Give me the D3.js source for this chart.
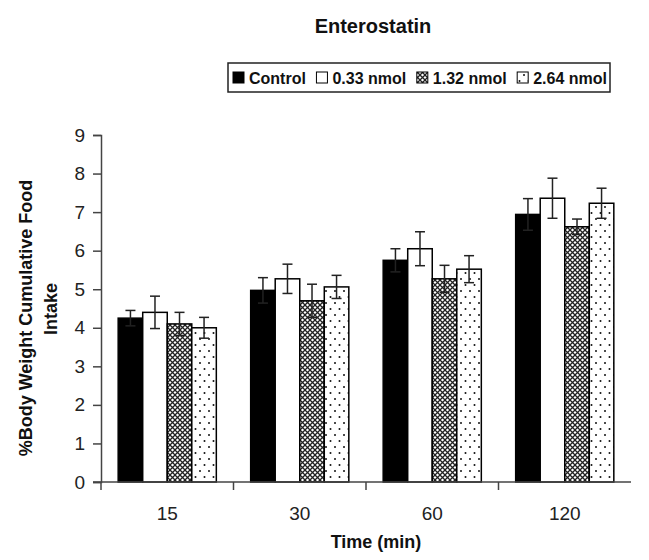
<!DOCTYPE html>
<html>
<head>
<meta charset="utf-8">
<script src="https://cdn.jsdelivr.net/npm/d3@7"></script>
<style>
  body { margin: 0; background: #fff; }
  svg { font-family: "Liberation Sans", Arial, sans-serif; }
</style>
</head>
<body>
<div id="chart"></div>
<script>
// data
const times = ["15", "30", "60", "120"];
const doses = ["Control", "0.33 nmol", "1.32 nmol", "2.64 nmol"];
const control = [4.25, 4.97, 5.75, 6.94];
const nmol033 = [4.4, 5.27, 6.05, 7.36];
const nmol132 = [4.1, 4.7, 5.27, 6.62];
const nmol264 = [4.0, 5.06, 5.52, 7.23];
const errControl = [0.2, 0.33, 0.3, 0.41];
const err033 = [0.42, 0.38, 0.44, 0.52];
const err132 = [0.3, 0.43, 0.35, 0.2];
const err264 = [0.27, 0.3, 0.35, 0.39];
const yTicks = [0, 1, 2, 3, 4, 5, 6, 7, 8, 9];

const series = [control, nmol033, nmol132, nmol264];
const errors = [errControl, err033, err132, err264];

const width = 649, height = 560;
const margin = { top: 135, right: 18, bottom: 78, left: 101 };

const svg = d3.select("#chart").append("svg")
  .attr("width", width)
  .attr("height", height);

// fill patterns
const defs = svg.append("defs");
const cross = defs.append("pattern")
  .attr("id", "cross")
  .attr("patternUnits", "userSpaceOnUse")
  .attr("width", 5).attr("height", 5);
cross.append("rect").attr("width", 5).attr("height", 5).attr("fill", "#fff");
cross.append("path")
  .attr("d", "M0,0L5,5M5,0L0,5")
  .attr("stroke", "#222").attr("stroke-width", 1.3);

const dots = defs.append("pattern")
  .attr("id", "dots")
  .attr("patternUnits", "userSpaceOnUse")
  .attr("width", 9).attr("height", 12);
dots.append("rect").attr("width", 9).attr("height", 12).attr("fill", "#fff");
dots.append("circle").attr("cx", 2).attr("cy", 3).attr("r", 1).attr("fill", "#111");
dots.append("circle").attr("cx", 6.5).attr("cy", 9).attr("r", 1).attr("fill", "#111");

const fills = ["#000", "#fff", "url(#cross)", "url(#dots)"];

const x = d3.scaleBand()
  .domain(times)
  .range([margin.left, width - margin.right])
  .paddingInner(0)
  .paddingOuter(0);

const xInner = d3.scaleBand()
  .domain(doses)
  .range([0, x.bandwidth()])
  .paddingOuter(0.7)
  .paddingInner(0);

const y = d3.scaleLinear()
  .domain([0, 9])
  .range([height - margin.bottom, margin.top]);

// bars
series.forEach((vals, si) => {
  svg.append("g")
    .selectAll("rect")
    .data(vals)
    .join("rect")
    .attr("x", (d, i) => x(times[i]) + xInner(doses[si]))
    .attr("y", d => y(d))
    .attr("width", xInner.bandwidth())
    .attr("height", d => y(0) - y(d))
    .attr("fill", fills[si])
    .attr("stroke", "#000")
    .attr("stroke-width", 1.5);
});

// error bars
series.forEach((vals, si) => {
  const g = svg.append("g").attr("stroke", "#222").attr("stroke-width", 1.5);
  vals.forEach((v, i) => {
    const cx = x(times[i]) + xInner(doses[si]) + xInner.bandwidth() / 2;
    const e = errors[si][i];
    g.append("line").attr("x1", cx).attr("x2", cx).attr("y1", y(v - e)).attr("y2", y(v + e));
    g.append("line").attr("x1", cx - 5).attr("x2", cx + 5).attr("y1", y(v + e)).attr("y2", y(v + e));
    g.append("line").attr("x1", cx - 5).attr("x2", cx + 5).attr("y1", y(v - e)).attr("y2", y(v - e));
  });
});

// y axis
const yAxis = svg.append("g")
  .attr("transform", `translate(${margin.left},0)`)
  .call(d3.axisLeft(y).tickValues(yTicks).tickSize(8).tickPadding(8).tickFormat(d3.format("d")));
yAxis.select(".domain").attr("stroke", "#444").attr("stroke-width", 1.5);
yAxis.selectAll(".tick line").attr("stroke", "#444").attr("stroke-width", 1.5);
yAxis.selectAll("text").attr("font-size", 19).attr("fill", "#222");

// x axis: line plus ticks at category boundaries
const xAxis = svg.append("g");
xAxis.append("line")
  .attr("x1", margin.left - 8).attr("x2", width - margin.right)
  .attr("y1", y(0)).attr("y2", y(0))
  .attr("stroke", "#444").attr("stroke-width", 1.5);
times.forEach(t => {
  xAxis.append("line")
    .attr("x1", x(t)).attr("x2", x(t))
    .attr("y1", y(0)).attr("y2", y(0) + 8)
    .attr("stroke", "#444").attr("stroke-width", 1.5);
  xAxis.append("text")
    .attr("x", x(t) + x.bandwidth() / 2)
    .attr("y", 520)
    .attr("text-anchor", "middle")
    .attr("font-size", 19)
    .attr("fill", "#222")
    .text(t);
});

// titles
svg.append("text")
  .attr("x", 373).attr("y", 33)
  .attr("text-anchor", "middle")
  .attr("font-size", 20).attr("font-weight", "bold")
  .attr("fill", "#111")
  .text("Enterostatin");

svg.append("text")
  .attr("x", 376).attr("y", 548)
  .attr("text-anchor", "middle")
  .attr("font-size", 18).attr("font-weight", "bold")
  .attr("fill", "#111")
  .text("Time (min)");

svg.append("text")
  .attr("transform", "translate(32,318) rotate(-90)")
  .attr("text-anchor", "middle")
  .attr("font-size", 18).attr("font-weight", "bold")
  .attr("fill", "#111")
  .text("%Body Weight Cumulative Food");
svg.append("text")
  .attr("transform", "translate(57,309) rotate(-90)")
  .attr("text-anchor", "middle")
  .attr("font-size", 18).attr("font-weight", "bold")
  .attr("fill", "#111")
  .text("Intake");

// legend
const legend = svg.append("g");
legend.append("rect")
  .attr("x", 228).attr("y", 63)
  .attr("width", 382).attr("height", 29)
  .attr("fill", "#fff").attr("stroke", "#222").attr("stroke-width", 1.5);

const items = legend.selectAll("g.item")
  .data(doses)
  .join("g")
  .attr("class", "item");
items.append("rect")
  .attr("y", 72)
  .attr("width", 11).attr("height", 11)
  .attr("fill", (d, i) => fills[i]).attr("stroke", "#000").attr("stroke-width", 1);
items.append("text")
  .attr("y", 84)
  .attr("font-size", 16).attr("font-weight", "bold")
  .attr("fill", "#111")
  .text(d => d);

const textW = items.select("text").nodes().map(n => n.getComputedTextLength());
const totalW = d3.sum(textW) + doses.length * 16;
const gap = (374 - totalW) / (doses.length - 1);
let cx = 233;
items.each(function (d, i) {
  d3.select(this).select("rect").attr("x", cx);
  d3.select(this).select("text").attr("x", cx + 16);
  cx += 16 + textW[i] + gap;
});
</script>
</body>
</html>
